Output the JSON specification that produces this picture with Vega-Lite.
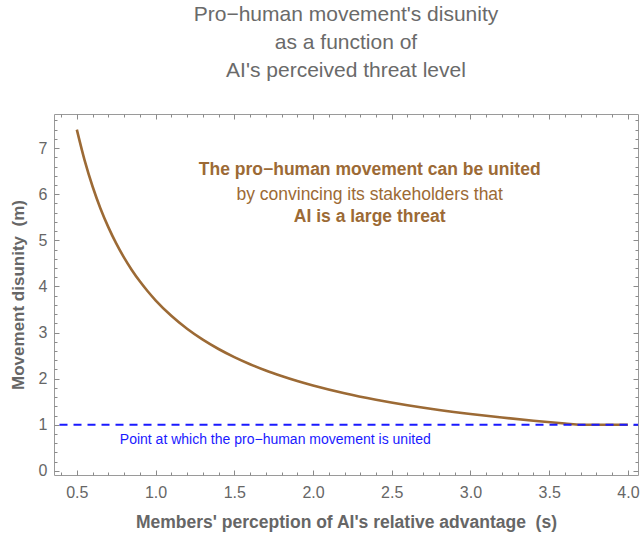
{
  "$schema": "https://vega.github.io/schema/vega-lite/v6.json",
  "width": 584,
  "height": 361,
  "autosize": "none",
  "padding": {"left": 54, "top": 114, "right": 3, "bottom": 64},
  "background": "white",
  "config": {
    "font": "Liberation Sans",
    "view": {"stroke": "#9a9a9a", "strokeWidth": 1},
    "axis": {"grid": false, "domain": false, "tickColor": "#8a8a8a", "labelColor": "#666666", "titleColor": "#666666", "labelFont": "Liberation Sans", "titleFont": "Liberation Sans"}
  },
  "title": {
    "text": ["Pro−human movement's disunity", "as a function of", "AI's perceived threat level"],
    "fontSize": 21,
    "fontWeight": "normal",
    "color": "#6a6a6a",
    "lineHeight": 28,
    "anchor": "middle",
    "offset": 33
  },
  "datasets": {
    "curve": [
      {"s": 0.5, "m": 7.4}, {"s": 0.55, "m": 6.727}, {"s": 0.6, "m": 6.167}, {"s": 0.65, "m": 5.692},
      {"s": 0.7, "m": 5.286}, {"s": 0.75, "m": 4.933}, {"s": 0.8, "m": 4.625}, {"s": 0.85, "m": 4.353},
      {"s": 0.9, "m": 4.111}, {"s": 0.95, "m": 3.895}, {"s": 1.0, "m": 3.7}, {"s": 1.1, "m": 3.364},
      {"s": 1.2, "m": 3.083}, {"s": 1.3, "m": 2.846}, {"s": 1.4, "m": 2.643}, {"s": 1.5, "m": 2.467},
      {"s": 1.6, "m": 2.313}, {"s": 1.7, "m": 2.176}, {"s": 1.8, "m": 2.056}, {"s": 1.9, "m": 1.947},
      {"s": 2.0, "m": 1.85}, {"s": 2.2, "m": 1.682}, {"s": 2.4, "m": 1.542}, {"s": 2.6, "m": 1.423},
      {"s": 2.8, "m": 1.321}, {"s": 3.0, "m": 1.233}, {"s": 3.2, "m": 1.156}, {"s": 3.4, "m": 1.088},
      {"s": 3.6, "m": 1.028}, {"s": 3.7, "m": 1.0}, {"s": 3.85, "m": 1.0}, {"s": 4.0, "m": 1.0}
    ],
    "threshold": [{"s1": 0.39, "s2": 4.064, "m": 1}],
    "boldNotes": [
      {"s": 2.36, "m": 6.53, "label": "The pro−human movement can be united"},
      {"s": 2.36, "m": 5.51, "label": "AI is a large threat"}
    ],
    "plainNotes": [
      {"s": 2.36, "m": 5.99, "label": "by convincing its stakeholders that"}
    ],
    "blueNote": [
      {"s": 0.773, "m": 0.67, "label": "Point at which the pro−human movement is united"}
    ]
  },
  "resolve": {"axis": {"x": "independent", "y": "independent"}},
  "layer": [
    {
      "data": {"name": "curve"},
      "mark": {"type": "line", "color": "#9c6a35", "strokeWidth": 2.6, "interpolate": "monotone"},
      "encoding": {
        "x": {"field": "s", "type": "quantitative",
          "scale": {"domain": [0.355, 4.064], "nice": false, "zero": false},
          "axis": {"orient": "bottom", "values": [0.5, 1.0, 1.5, 2.0, 2.5, 3.0, 3.5, 4.0], "format": ".1f",
            "tickSize": -5, "labelPadding": 14, "labelFontSize": 16,
            "title": "Members' perception of AI's relative advantage\u00a0\u00a0(s)", "titleFontSize": 17.5, "titleFontWeight": "bold", "titlePadding": 13}},
        "y": {"field": "m", "type": "quantitative",
          "scale": {"domain": [-0.09, 7.74], "nice": false, "zero": false},
          "axis": {"orient": "left", "values": [0, 1, 2, 3, 4, 5, 6, 7], "format": "d",
            "tickSize": -5, "labelPadding": 12, "labelFontSize": 16,
            "title": "Movement disunity\u00a0\u00a0(m)", "titleFontSize": 17, "titleFontWeight": "bold", "titlePadding": 11}}
      }
    },
    {
      "data": {"name": "threshold"},
      "mark": {"type": "rule", "color": "#1a1aff", "strokeWidth": 1.8, "strokeDash": [8, 6]},
      "encoding": {
        "x": {"field": "s1", "type": "quantitative",
          "axis": {"orient": "top", "values": [0.5, 1.0, 1.5, 2.0, 2.5, 3.0, 3.5, 4.0], "labels": false, "tickSize": -5, "title": null}},
        "x2": {"field": "s2"},
        "y": {"field": "m", "type": "quantitative",
          "axis": {"orient": "right", "values": [0, 1, 2, 3, 4, 5, 6, 7], "labels": false, "tickSize": -5, "title": null}}
      }
    },
    {
      "data": {"name": "boldNotes"},
      "mark": {"type": "text", "color": "#9c6a35", "fontSize": 17.5, "fontWeight": "bold", "align": "center", "baseline": "middle"},
      "encoding": {
        "x": {"field": "s", "type": "quantitative",
          "axis": {"orient": "bottom", "values": [0.4, 0.6, 0.7, 0.8, 0.9, 1.1, 1.2, 1.3, 1.4, 1.6, 1.7, 1.8, 1.9, 2.1, 2.2, 2.3, 2.4, 2.6, 2.7, 2.8, 2.9, 3.1, 3.2, 3.3, 3.4, 3.6, 3.7, 3.8, 3.9], "labels": false, "tickSize": -3, "title": null}},
        "y": {"field": "m", "type": "quantitative",
          "axis": {"orient": "left", "values": [0.2, 0.4, 0.6, 0.8, 1.2, 1.4, 1.6, 1.8, 2.2, 2.4, 2.6, 2.8, 3.2, 3.4, 3.6, 3.8, 4.2, 4.4, 4.6, 4.8, 5.2, 5.4, 5.6, 5.8, 6.2, 6.4, 6.6, 6.8, 7.2, 7.4, 7.6], "labels": false, "tickSize": -3, "title": null}},
        "text": {"field": "label"}
      }
    },
    {
      "data": {"name": "plainNotes"},
      "mark": {"type": "text", "color": "#9c6a35", "fontSize": 17.5, "fontWeight": "normal", "align": "center", "baseline": "middle"},
      "encoding": {
        "x": {"field": "s", "type": "quantitative",
          "axis": {"orient": "top", "values": [0.4, 0.6, 0.7, 0.8, 0.9, 1.1, 1.2, 1.3, 1.4, 1.6, 1.7, 1.8, 1.9, 2.1, 2.2, 2.3, 2.4, 2.6, 2.7, 2.8, 2.9, 3.1, 3.2, 3.3, 3.4, 3.6, 3.7, 3.8, 3.9], "labels": false, "tickSize": -3, "title": null}},
        "y": {"field": "m", "type": "quantitative",
          "axis": {"orient": "right", "values": [0.2, 0.4, 0.6, 0.8, 1.2, 1.4, 1.6, 1.8, 2.2, 2.4, 2.6, 2.8, 3.2, 3.4, 3.6, 3.8, 4.2, 4.4, 4.6, 4.8, 5.2, 5.4, 5.6, 5.8, 6.2, 6.4, 6.6, 6.8, 7.2, 7.4, 7.6], "labels": false, "tickSize": -3, "title": null}},
        "text": {"field": "label"}
      }
    },
    {
      "data": {"name": "blueNote"},
      "mark": {"type": "text", "color": "#1a1aff", "fontSize": 14, "align": "left", "baseline": "middle"},
      "encoding": {
        "x": {"field": "s", "type": "quantitative", "axis": null},
        "y": {"field": "m", "type": "quantitative", "axis": null},
        "text": {"field": "label"}
      }
    }
  ]
}
